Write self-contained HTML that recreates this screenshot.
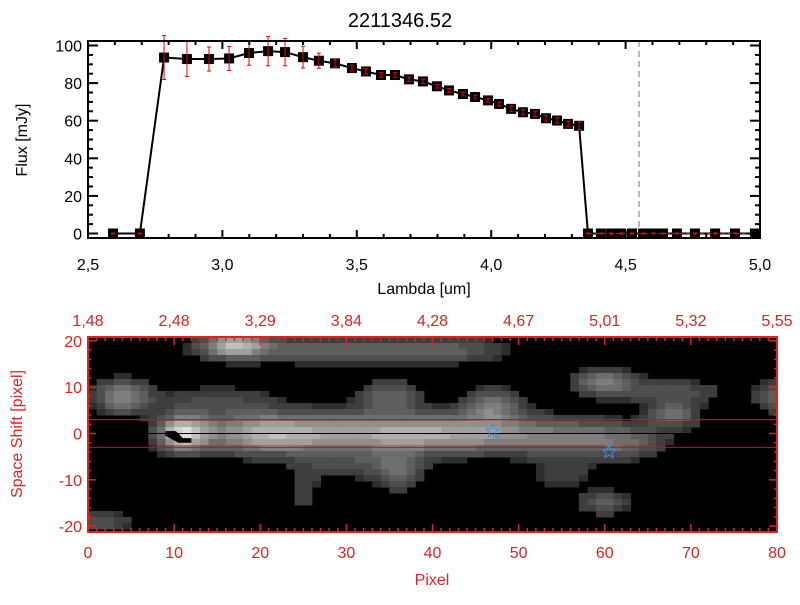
<!DOCTYPE html>
<html><head><meta charset="utf-8"><style>
body{margin:0;background:#fff;width:800px;height:600px;overflow:hidden}
svg text{font-family:"Liberation Sans",sans-serif}
</style></head><body>
<svg id="c" width="800" height="600" viewBox="0 0 800 600" xmlns="http://www.w3.org/2000/svg">
<text x="400" y="27" font-size="20" text-anchor="middle">2211346.52</text>
<g id="top"></g>
<g id="bot"></g>
</svg>
<script>
const lambdas=[2.593,2.693,2.783,2.868,2.950,3.025,3.099,3.170,3.233,3.300,3.359,3.419,3.482,3.534,3.590,3.642,3.694,3.746,3.798,3.843,3.895,3.940,3.988,4.029,4.074,4.118,4.163,4.204,4.245,4.286,4.327,4.360,4.408,4.446,4.483,4.524,4.565,4.602,4.639,4.691,4.758,4.833,4.907,4.981];
const fluxes=[0,0,93.6,92.8,92.8,93.1,96,97,96.5,93.8,91.9,90.5,88,86.2,84.3,84.3,82,80.9,78.3,76.1,74.2,72.6,70.8,68.9,66.3,64.5,63.6,61.3,60.1,58.3,57.3,0,0,0,0,0,0,0,0,0,0,0,0,0];
const errors=[0.3,0.3,11.7,9.3,6.4,6.4,6.5,7.8,7.3,5.8,4,2,1.5,1.5,1.2,1.2,1.2,1.2,1,1,1,1,1,1,1.5,1.5,1.5,1.5,1.5,1.5,2,0.3,0.3,0.3,0.3,0.3,0.3,0.3,0.3,0.3,0.3,0.3,0.3,0.3];
const xTicks=["2.5","3.0","3.5","4.0","4.5","5.0"];
const yTicks=[0,20,40,60,80,100];
const pixTicks=[0,10,20,30,40,50,60,70,80];
const topLamTicks=["1.48","2.48","3.29","3.84","4.28","4.67","5.01","5.32","5.55"];
const shiftTicks=[-20,-10,0,10,20];
const stars=[[47,0.5],[60.5,-4]];
// blobs: [pixel, shift, intensity, sigmaX, sigmaY]
const blobs=[[11,0,0.75,2,2.6],[20,0,0.5,5,3],[32,0,0.5,8,3],[45,0,0.42,7,2.9],[57,-1,0.3,5,2.8],[63,-2,0.2,3,2.5],
[17,19,0.6,2.5,1.8],[28,18,0.3,9,2],[42,18,0.2,5,2],[4,8,0.45,2.2,2.5],[15,7,0.18,5,2.5],[35,8,0.3,2.5,2.5],[47,6,0.38,2.2,2.5],[60,11,0.42,2.5,2],[68,9,0.22,4,2],[68,4,0.35,2,2],[80,8,0.3,1.8,2.5],
[36,-8,0.3,2,3],[30,-7,0.18,4,2],[60,-15,0.28,2,1.8],[1,-19,0.25,3,1.5],[25,-13,0.14,1.5,3.5],[55,-9,0.14,3,2.5]];
const NS="http://www.w3.org/2000/svg";
function mk(p,t,a){const e=document.createElementNS(NS,t);for(const k in a)e.setAttribute(k,a[k]);p.appendChild(e);return e;}
const T=document.getElementById('top');
const X0=88,X1=760,Y0=238,Y1=41;
const sx=l=>X0+(l-2.5)/2.5*(X1-X0);
const sy=v=>233.5-v*1.88;
mk(T,'line',{x1:sx(4.55),x2:sx(4.55),y1:Y1,y2:Y0,stroke:'#777','stroke-dasharray':'6,4','stroke-width':1});
let pts=lambdas.map((l,i)=>sx(l)+','+sy(fluxes[i])).join(' ');
const ln=mk(T,'polyline',{points:pts,fill:'none',stroke:'#000','stroke-width':2});

lambdas.forEach((l,i)=>{
 const g=mk(T,'g',{});
 
 const x=sx(l),y=sy(fluxes[i]);
 mk(g,'rect',{x:x-5,y:y-5,width:10,height:10,fill:'#000'});
 const e1=sy(fluxes[i]+errors[i]),e2=sy(fluxes[i]-errors[i]);
 mk(g,'line',{x1:x,x2:x,y1:e1,y2:e2,stroke:'#e00','stroke-width':1});
 mk(g,'line',{x1:x-2,x2:x+2,y1:e1,y2:e1,stroke:'#e00','stroke-width':1});
 mk(g,'line',{x1:x-2,x2:x+2,y1:e2,y2:e2,stroke:'#e00','stroke-width':1});
});
mk(T,'line',{x1:sx(4.36),x2:X1,y1:sy(0),y2:sy(0),stroke:'#e00','stroke-dasharray':'4,3','stroke-width':1});
mk(T,'rect',{x:X0,y:Y1,width:X1-X0,height:Y0-Y1,fill:'none',stroke:'#000','stroke-width':2});
for(let l=2.5;l<=5.001;l+=0.1){const x=sx(l),maj=Math.abs(l*2-Math.round(l*2))<1e-6;const h=maj?8:4;
 mk(T,'line',{x1:x,x2:x,y1:Y0,y2:Y0-h,stroke:'#000','stroke-width':2});mk(T,'line',{x1:x,x2:x,y1:Y1,y2:Y1+h,stroke:'#000','stroke-width':2});}
xTicks.forEach(t=>{const e=mk(T,'text',{x:sx(parseFloat(t)),y:Y0+32,'font-size':16,'text-anchor':'middle'});e.textContent=t.replace('.',',');});
for(let v=0;v<=100;v+=5){const y=sy(v),h=v%20==0?10:5;
 mk(T,'line',{x1:X0,x2:X0+h,y1:y,y2:y,stroke:'#000','stroke-width':2});mk(T,'line',{x1:X1,x2:X1-h,y1:y,y2:y,stroke:'#000','stroke-width':2});}
yTicks.forEach(v=>{const e=mk(T,'text',{x:X0-6,y:sy(v)+6,'font-size':16,'text-anchor':'end'});e.textContent=v;});
let e=mk(T,'text',{x:424,y:294,'font-size':16,'text-anchor':'middle'});e.textContent='Lambda [um]';
e=mk(T,'text',{x:0,y:0,'font-size':16,'text-anchor':'middle',transform:'translate(27,140) rotate(-90)'});e.textContent='Flux [mJy]';
const B=document.getElementById('bot');
const BX0=88,BX1=777,BY0=532,BY1=337;
const px=p=>BX0+p/80*(BX1-BX0);
const py=s=>433.5-s*(BY0-BY1)/40*0.95;
const img=mk(B,'g',{});
mk(img,'rect',{x:BX0,y:BY1,width:BX1-BX0,height:BY0-BY1,fill:'#000'});
const cw=(BX1-BX0)/80, ch=6;
for(let i=0;i<80;i++){for(let r=0;r*ch<BY0-BY1;r++){
 const yc=BY1+r*ch+ch/2, s=(433.5-yc)/((BY0-BY1)/40*0.95), p=i+0.5;
 let v=0;blobs.forEach(b=>{v+=b[2]*Math.exp(-((p-b[0])**2)/(2*b[3]*b[3])-((s-b[1])**2)/(2*b[4]*b[4]));});
 if(v<0.09)continue;v=Math.min(1,v);const q=Math.round(v*14)/14;const gv=Math.round(30+q*225);
 mk(img,'rect',{x:(BX0+i*cw).toFixed(1),y:(BY1+r*ch).toFixed(1),width:(cw+0.5).toFixed(1),height:ch+0.5,fill:`rgb(${gv},${gv},${gv})`});
}}
mk(B,'polygon',{points:`${px(9)},${py(0.5)} ${px(10.2)},${py(0.5)} ${px(11)},${py(-1)} ${px(12)},${py(-1)} ${px(12)},${py(-2)} ${px(10.5)},${py(-2)} ${px(9)},${py(-0.5)}`,fill:'#000'});
mk(B,'line',{x1:BX0,x2:BX1,y1:py(3),y2:py(3),stroke:'#e00','stroke-width':1.2});
mk(B,'line',{x1:BX0,x2:BX1,y1:py(0),y2:py(0),stroke:'#000','stroke-width':1});
mk(B,'line',{x1:BX0,x2:BX1,y1:py(-3),y2:py(-3),stroke:'#e00','stroke-width':1});
stars.forEach(s=>{const cx=px(s[0]),cy=py(s[1]);let p=[];for(let k=0;k<10;k++){const a=-Math.PI/2+k*Math.PI/5,r=k%2?3:7;p.push((cx+r*Math.cos(a)).toFixed(1)+','+(cy+r*Math.sin(a)).toFixed(1));}
 const st=mk(B,'polygon',{points:p.join(' '),fill:'none',stroke:'#3a8ee6','stroke-width':1});});
const red='#d22';
mk(B,'rect',{x:BX0,y:BY1,width:BX1-BX0,height:BY0-BY1,fill:'none',stroke:red,'stroke-width':2});
for(let p=0;p<=80;p++){const x=px(p),h=p%10==0?8:4;mk(B,'line',{x1:x,x2:x,y1:BY0,y2:BY0-h,stroke:red,'stroke-width':1.5});mk(B,'line',{x1:x,x2:x,y1:BY1,y2:BY1+h,stroke:red,'stroke-width':1.5});}
for(let s=-20;s<=20;s+=2){const y=py(s),h=s%10==0?8:3;mk(B,'line',{x1:BX0,x2:BX0+h,y1:y,y2:y,stroke:red,'stroke-width':1.5});mk(B,'line',{x1:BX1,x2:BX1-h,y1:y,y2:y,stroke:red,'stroke-width':1.5});}
pixTicks.forEach(p=>{const t=mk(B,'text',{x:px(p),y:558,'font-size':16,'text-anchor':'middle',fill:red});t.textContent=p;});
topLamTicks.forEach((l,i)=>{const t=mk(B,'text',{x:px(i*10),y:326,'font-size':16,'text-anchor':'middle',fill:red});t.textContent=l.replace('.',',');});
shiftTicks.forEach(s=>{const t=mk(B,'text',{x:BX0-6,y:py(s)+6,'font-size':16,'text-anchor':'end',fill:red});t.textContent=s;});
e=mk(B,'text',{x:432,y:585,'font-size':16,'text-anchor':'middle',fill:red});e.textContent='Pixel';
e=mk(B,'text',{x:0,y:0,'font-size':16,'text-anchor':'middle',fill:red,transform:'translate(22,434) rotate(-90)'});e.textContent='Space Shift [pixel]';
</script>
</body></html>
